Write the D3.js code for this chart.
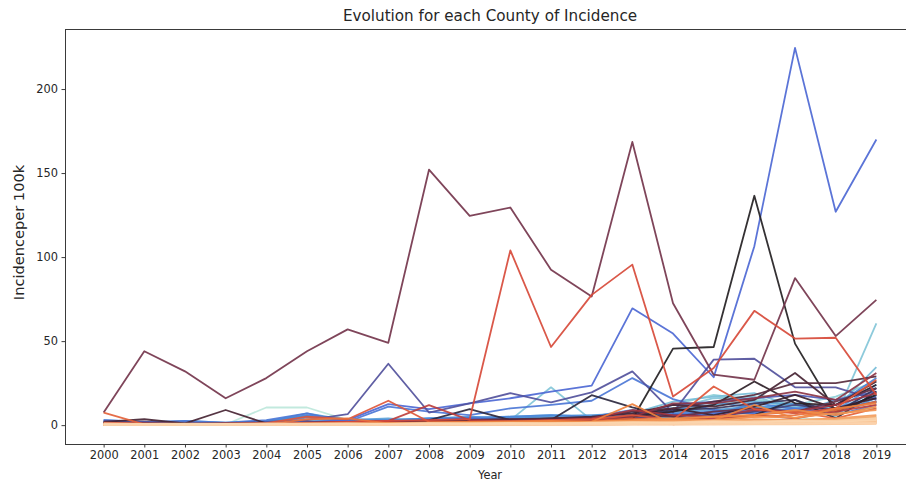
<!DOCTYPE html>
<html>
<head>
<meta charset="utf-8">
<script src="https://cdn.jsdelivr.net/npm/d3@7"></script>
<style>
  html, body { margin: 0; padding: 0; background: #fff; }
  svg { display: block; font-family: "DejaVu Sans", sans-serif; }
</style>
</head>
<body>
<svg id="chart" width="906" height="483"></svg>
<script>
// Years on the x axis
const years = [2000, 2001, 2002, 2003, 2004, 2005, 2006, 2007, 2008, 2009,
               2010, 2011, 2012, 2013, 2014, 2015, 2016, 2017, 2018, 2019];

// County identifiers, in hue order
const counties = d3.range(1, 57).map(i => "C" + String(i).padStart(2, "0"));

// Incidence per 100k, one row per county (same order as counties)
const incidence = [
  [0.5,0.3,0.2,0.4,10.5,10.5,3,1,0.8,1.2,0.9,1.5,1.2,2,3.5,5,6,4,3,5],
  [0.2,0.4,0.3,0.5,0.8,1.5,2.5,1.2,1.8,2.5,3.5,4,3,5,7,12,16,9,7,10],
  [0.8,0.5,0.6,0.4,0.5,0.7,1,0.6,1.2,1.5,2,2.2,2.8,4,6,8,10,13,10,14],
  [0.3,0.5,0.4,0.3,0.6,1,1.5,1,1.8,2.2,2.5,3,3.5,6,12,18,15,12,17,26],
  [0.5,0.6,0.4,0.6,0.7,1,0.8,1.5,2,2.5,3,22.5,3,5,10,16,17,10,5,60.5],
  [1,0.8,1.2,0.9,1.5,2,2.5,3,4,3.5,4,5,5.5,7,14,17,19,11,10,34.5],
  [1.5,1.2,0.8,1,1.2,3,2,1.5,2.5,3,2,2.8,3,4,5,8,12,7,15,22],
  [2,1.5,1.8,1.2,2,5,3,2.5,3,4,5,6,5,8,10,12,14,12,9,20],
  [0.8,1,2.5,1.5,1.8,7,3,4,2,3,3.5,4,4.5,6,8,9,11,10,8,18],
  [3,2,1.5,1,2.5,5.5,3.5,3,4,5,4,5.5,6,7,9,14,10,13,9,24],
  [0.5,0.8,1,0.6,1,4.5,2,2.5,3,3,4,3.5,4,5,6,6.5,8,9,7,16],
  [1,1.2,0.8,1,2,6,2.5,3,4,4.5,5,6,5,9,7,6,13,10,12,28],
  [1.2,1,0.7,0.9,1.1,2,1.5,2,2.5,3,3.5,4,4.2,5,7,8,7,9,8,14],
  [3,2,2.5,1.5,3,7,2,11,8,6,10,12,14.5,28,15.5,9,7,10,6,12],
  [0.4,0.6,0.5,0.7,0.9,1.8,1.2,1.4,2,2.4,2.6,3,3.2,4.5,6,7,9,8,10,17],
  [2,1.5,1,0.8,1.5,2,3,12.5,9.5,13,16,20,23.5,69.5,54.5,28.5,106.5,224.5,127,170],
  [1,0.8,1.2,0.6,1,2,1.5,2,3,4,3,3.5,4,6,12,14,16,18,15,20],
  [2.5,2,1.5,1,2,3,6.5,36.5,7.5,13,19,13.5,19.5,32,7.5,39,39.5,22.5,22.5,15],
  [0.5,1,0.8,1.2,0.8,1.5,2,2.5,2,3,3.5,2.5,3,4,6,5,8,12,9,14],
  [0.2,0.5,0.6,0.4,0.5,1,1.2,1,1.5,2,2.5,3,2.8,5,9,10,13,15,7,22],
  [1,0.8,0.6,0.5,0.5,0.8,1,1.5,3,9.5,3,3,17.8,10.6,5,3,6,15,4,20],
  [0.5,0.3,0.4,0.5,0.3,0.6,0.8,1,1.5,2,2.5,3,4,3.5,45.5,46.5,136.5,48.5,8,18],
  [0.8,0.5,0.4,0.3,0.5,0.8,1,1.2,2,2.5,3,3.5,3,5,8,12,26,13,12,24],
  [0.3,0.5,0.8,0.6,0.5,0.6,0.9,1.2,1,1.5,2,2.4,2,6,10,6,11,18,10,16],
  [2,3.5,1,9,1,0.8,1.5,2,1.8,2.5,3,4,5,7,12,11,15,31,12,26],
  [1.5,1,0.8,0.9,1,1.5,2,1.8,2.5,3,3.5,4,4.5,8,10,14,18,25,25,29],
  [0.5,0.6,0.8,0.4,0.5,0.9,1.2,1.5,1.3,2,2.2,2.6,3,6,5,8,10,8,14,22],
  [7.5,44,32,16,28,44,57,49,152,124.5,129.5,92.5,76.5,168.5,72.5,30,27,87.5,53,74.5],
  [0.8,0.5,0.6,0.7,0.8,1,1.4,2,1.5,1.8,2.5,3,3.5,5,13,13,16,20,15,31],
  [0.4,0.3,0.5,0.6,0.4,1,2,1.5,1.2,2,2.5,3,4,9,6,5,9,8,12,19],
  [0.5,0.5,0.4,0.6,0.8,1.5,2,2.5,11.9,3,2.5,2,2,3,2,4,6,4,8,12],
  [1,0.8,0.6,0.5,0.8,1.2,2,2.5,3,3.5,104,46.5,77.5,95.5,17,34,68,51.5,52,18],
  [1.5,1,0.8,1,1.2,5,3.5,14.5,2,1.5,2,3,3.5,6,3,23,9.5,7,10,27],
  [7.5,0.5,0.4,0.3,0.6,1,0.8,1.2,1.5,1,1.8,2,2.5,4,3,5,6,8,4,10],
  [0.3,0.4,0.6,0.5,0.4,3.5,4,1,1.5,2,1.4,1.6,2,3,2.5,3,5,6,9,14],
  [0.5,0.4,0.3,0.5,0.6,0.8,1,1.2,1.5,2,2.2,2.5,2,12.5,0.5,3,12,4,10,13],
  [0.2,0.3,0.5,0.4,0.6,0.7,0.9,0.8,1,1.2,1.5,1.8,2,3,4,5,6,9,6,11],
  [0.6,0.5,0.4,0.7,0.5,1,0.8,1.1,0.9,1.3,1.6,1.4,1.9,2.5,3.5,3,5,4.5,7,9],
  [0.3,0.2,0.4,0.3,0.5,0.6,0.4,0.8,0.7,1,1.2,0.9,1.4,2,2.5,2.2,3.5,3,4,6],
  [0.1,0.2,0.1,0.3,0.2,0.4,0.5,0.3,0.6,0.8,0.7,1,1.1,1.5,2,2.5,2,3,3.5,5],
  [0.5,0.4,0.6,0.5,0.7,0.5,0.8,0.6,1,0.9,1.1,1.3,1.2,1.8,1.5,2.8,2.4,2,3,4],
  [0,0.1,0.2,0.1,0.1,0.3,0.2,0.4,0.3,0.5,0.6,0.5,0.8,1,1.2,1.5,1.8,2.4,2,3],
  [0.2,0.3,0.2,0.4,0.3,0.2,0.5,0.4,0.6,0.5,0.8,0.7,0.9,1.2,1,1.6,2,1.5,2.6,2],
  [0.4,0.2,0.3,0.2,0.4,0.5,0.3,0.6,0.5,0.7,0.5,0.9,0.8,1,1.4,1.2,1.5,2,1.8,2.5],
  [0.1,0,0.1,0.2,0.1,0.2,0.3,0.2,0.4,0.3,0.4,0.5,0.6,0.7,0.9,0.8,1.2,1,1.4,1.6],
  [0,0.1,0,0.1,0.2,0.1,0.2,0.3,0.2,0.3,0.2,0.4,0.3,0.5,0.4,0.6,0.7,0.8,0.6,1],
  [0.2,0.1,0.3,0.2,0.1,0.3,0.2,0.4,0.3,0.2,0.5,0.4,0.6,0.8,0.7,1,1.3,1.1,1.6,2.2],
  [0.6,0.5,0.4,0.6,0.5,0.4,0.7,0.5,0.8,0.6,0.9,0.7,1,1.3,1.1,1.8,1.5,2.2,2.6,3.4],
  [0.1,0.1,0.2,0,0.1,0.2,0.1,0.2,0.3,0.2,0.3,0.4,0.3,0.6,0.5,0.7,0.9,0.6,1.1,1.3],
  [0.3,0.4,0.3,0.5,0.4,0.6,0.5,0.7,0.6,0.8,0.7,0.9,1.1,1,1.5,1.3,1.9,1.6,2.1,2.8],
  [0.8,0.6,0.7,0.5,0.6,0.8,0.6,0.9,0.7,1,0.8,1.2,1,1.4,1.2,2,1.7,2.5,2.2,3.8],
  [0,0,0.1,0.1,0,0.1,0.1,0.2,0.1,0.2,0.2,0.3,0.2,0.3,0.4,0.3,0.5,0.4,0.6,0.8],
  [0.4,0.3,0.5,0.4,0.3,0.5,0.4,0.6,0.4,0.6,0.5,0.8,0.6,0.9,0.8,1.1,1,1.4,1.2,1.7],
  [1,0.8,0.9,0.7,1,0.9,1.1,0.8,1.2,1,1.3,1.1,1.5,1.8,1.6,2.3,2,2.8,2.5,4.2],
  [0.2,0.2,0.1,0.2,0.3,0.2,0.3,0.2,0.4,0.3,0.4,0.3,0.5,0.6,0.7,0.6,0.8,0.9,1,1.2],
  [0.5,0.7,0.6,0.8,0.6,0.7,0.9,0.7,1,0.8,1.1,0.9,1.2,1.5,1.3,1.9,1.6,2.4,2,3]
];

// Diverging "icefire"-style palette: stop positions and colours
const paletteAt = [0, 0.055, 0.13, 0.2, 0.273, 0.309, 0.36, 0.38, 0.42, 0.49,
                   0.53, 0.564, 0.6, 0.64, 0.72, 1];
const paletteColors = [
  "#bde7db", "#8ecfd8", "#5fa9d8", "#4b86d8", "#4d68d4", "#52519c",
  "#2e2a44", "#222022", "#3a1f2c", "#73354c", "#a8353f", "#d84a3a",
  "#e4623a", "#ef843e", "#f6aa6e", "#fbd6b0"
];

const titleText = "Evolution for each County of Incidence";
const xLabel = "Year";
const yLabel = "Incidenceper 100k";
const yTicks = [0, 50, 100, 150, 200];

// ---- layout ----
const svg = d3.select("#chart");
const plot = { left: 65, right: 915, top: 29, bottom: 444 };

const allVals = incidence.flat();
const yMin = d3.min(allVals), yMax = d3.max(allVals);
const yPad = (yMax - yMin) * 0.05;
const xPad = (years[years.length - 1] - years[0]) * 0.05;

const x = d3.scaleLinear()
  .domain([years[0] - xPad, years[years.length - 1] + xPad])
  .range([plot.left, plot.right]);
const y = d3.scaleLinear()
  .domain([yMin - yPad, yMax + yPad])
  .range([plot.bottom, plot.top]);

const palette = d3.scaleLinear().domain(paletteAt).range(paletteColors)
  .interpolate(d3.interpolateRgb);
const color = d3.scaleOrdinal()
  .domain(counties)
  .range(counties.map((_, i) => palette(i / (counties.length - 1))));

svg.append("defs").append("clipPath").attr("id", "plot-clip")
  .append("rect")
  .attr("x", plot.left).attr("y", plot.top)
  .attr("width", plot.right - plot.left).attr("height", plot.bottom - plot.top);

// ---- series lines ----
const line = d3.line()
  .x((d, i) => x(years[i]))
  .y(d => y(d));

svg.append("g")
  .attr("clip-path", "url(#plot-clip)")
  .selectAll("path")
  .data(counties.map((c, i) => ({ county: c, values: incidence[i] })))
  .join("path")
  .attr("fill", "none")
  .attr("stroke", d => color(d.county))
  .attr("stroke-width", 1.8)
  .attr("stroke-linejoin", "round")
  .attr("stroke-linecap", "butt")
  .attr("opacity", 0.92)
  .attr("d", d => line(d.values));

// ---- axes ----
const tickColor = "#262626";

const xAxis = svg.append("g")
  .attr("transform", `translate(0,${plot.bottom})`)
  .call(d3.axisBottom(x).tickValues(years).tickFormat(d3.format("d"))
        .tickSize(3.5).tickPadding(3.5));
const yAxis = svg.append("g")
  .attr("transform", `translate(${plot.left},0)`)
  .call(d3.axisLeft(y).tickValues(yTicks).tickFormat(d3.format("d"))
        .tickSize(3.5).tickPadding(3.5));

[xAxis, yAxis].forEach(g => {
  g.select(".domain").remove();
  g.selectAll(".tick line").attr("stroke", tickColor).attr("stroke-width", 0.9);
  g.selectAll(".tick text")
    .attr("fill", tickColor)
    .style("font-family", "'DejaVu Sans', sans-serif")
    .style("font-size", "11.4px");
});

// frame around the plotting area
svg.append("rect")
  .attr("x", plot.left + 0.5).attr("y", plot.top + 0.5)
  .attr("width", plot.right - plot.left).attr("height", plot.bottom - plot.top)
  .attr("fill", "none")
  .attr("stroke", "#3a3a3a")
  .attr("stroke-width", 1);

// ---- text ----
svg.append("text")
  .attr("x", (plot.left + plot.right) / 2)
  .attr("y", 21)
  .attr("text-anchor", "middle")
  .attr("fill", tickColor)
  .style("font-size", "15.2px")
  .text(titleText);

svg.append("text")
  .attr("x", (plot.left + plot.right) / 2)
  .attr("y", 479)
  .attr("text-anchor", "middle")
  .attr("fill", tickColor)
  .style("font-size", "11.4px")
  .text(xLabel);

svg.append("text")
  .attr("transform", `translate(23.5,${(plot.top + plot.bottom) / 2 - 4}) rotate(-90)`)
  .attr("text-anchor", "middle")
  .attr("fill", tickColor)
  .style("font-size", "14.6px")
  .text(yLabel);
</script>
</body>
</html>
